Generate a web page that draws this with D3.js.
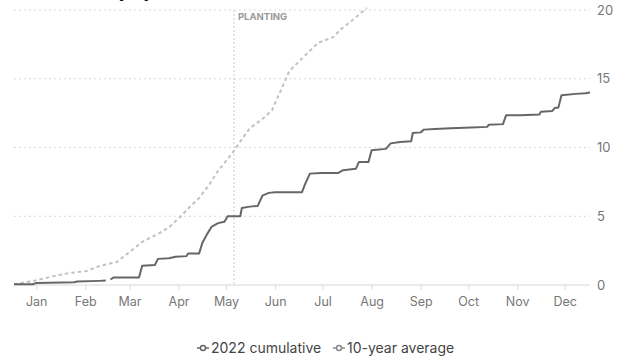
<!DOCTYPE html>
<html><head><meta charset="utf-8">
<script src="https://cdn.jsdelivr.net/npm/d3@7"></script>
<style>
body{margin:0;background:#fff;}
svg{display:block;font-family:Inter,"Noto Sans",sans-serif;}
</style></head><body>
<svg id="c" width="618" height="360"></svg>
<script>
const title = "Rainfall (in)";
const yTicks = [0, 5, 10, 15, 20];
const monthTicks = ["2022-01-15","2022-02-15","2022-03-15","2022-04-15","2022-05-15","2022-06-15","2022-07-15","2022-08-15","2022-09-15","2022-10-15","2022-11-15","2022-12-15"];
const plantingDate = "2022-05-20";
const plantingLabel = "PLANTING";
const seriesNames = ["2022 cumulative", "10-year average"];

const dates2022 = ["2022-01-01","2022-01-13","2022-01-15","2022-02-08","2022-02-10","2022-02-24","2022-02-28","2022-03-01","2022-03-03","2022-03-05","2022-03-21","2022-03-23","2022-03-31","2022-04-02","2022-04-09","2022-04-13","2022-04-20","2022-04-21","2022-04-28","2022-04-30","2022-05-03","2022-05-06","2022-05-10","2022-05-14","2022-05-16","2022-05-24","2022-05-25","2022-05-30","2022-06-04","2022-06-07","2022-06-11","2022-06-15","2022-07-02","2022-07-04","2022-07-07","2022-07-14","2022-07-25","2022-07-28","2022-08-05","2022-08-07","2022-08-13","2022-08-15","2022-08-24","2022-08-27","2022-09-02","2022-09-09","2022-09-10","2022-09-15","2022-09-17","2022-09-24","2022-10-04","2022-10-17","2022-10-27","2022-10-28","2022-11-06","2022-11-08","2022-11-17","2022-11-29","2022-11-30","2022-12-07","2022-12-09","2022-12-11","2022-12-13","2022-12-22","2022-12-28","2022-12-31"];
const values2022 = [0.05,0.05,0.15,0.2,0.25,0.3,0.32,null,0.4,0.55,0.55,1.4,1.45,1.9,1.95,2.05,2.1,2.3,2.3,3.05,3.7,4.25,4.5,4.6,5.0,5.0,5.6,5.7,5.75,6.5,6.7,6.75,6.75,7.35,8.1,8.15,8.15,8.35,8.45,8.95,8.95,9.8,9.9,10.3,10.4,10.45,11.05,11.1,11.3,11.35,11.4,11.45,11.5,11.65,11.7,12.35,12.35,12.4,12.6,12.65,12.9,12.9,13.8,13.9,13.95,14.0];

const datesAvg = ["2022-01-01","2022-01-13","2022-01-26","2022-02-05","2022-02-16","2022-02-24","2022-03-07","2022-03-15","2022-03-23","2022-04-03","2022-04-09","2022-04-16","2022-04-22","2022-04-28","2022-05-05","2022-05-09","2022-05-19","2022-05-26","2022-05-30","2022-06-07","2022-06-13","2022-06-18","2022-06-24","2022-07-01","2022-07-12","2022-07-22","2022-07-26","2022-08-03","2022-08-12"];
const valuesAvg = [0.05,0.29,0.65,0.87,1.02,1.38,1.67,2.4,3.13,3.78,4.2,4.95,5.67,6.33,7.4,8.15,9.6,10.76,11.4,12.07,12.7,14.0,15.56,16.36,17.6,18.04,18.55,19.27,20.15];

const parse = d3.timeParse("%Y-%m-%d");
const svg = d3.select("#c");
const mLeft = 14, mRight = 590, mTop = 10, mBottom = 285;

const x = d3.scaleTime().domain([parse("2022-01-01"), parse("2022-12-31")]).range([mLeft, mRight]);
const y = d3.scaleLinear().domain([0, 20]).range([mBottom, mTop]);

// title (cut off at top, as in the reference)
svg.append("text").attr("x", 152).attr("y", -2).attr("text-anchor", "end")
  .attr("font-size", 22).attr("font-weight", 700).attr("fill", "#111").text(title);

// gridlines
svg.append("g").selectAll("line").data(yTicks).join("line")
  .attr("x1", mLeft).attr("x2", mRight)
  .attr("y1", d => y(d)).attr("y2", d => y(d))
  .attr("stroke", "#d8d8d8").attr("stroke-dasharray", d => d === 0 ? null : "2,3")
  .attr("stroke-width", 1);

// right axis
const yAxis = svg.append("g").attr("transform", `translate(${mRight},0)`)
  .call(d3.axisRight(y).tickValues(yTicks).tickSize(0).tickPadding(7));
yAxis.select(".domain").remove();
yAxis.selectAll("text").attr("font-size", 13).attr("fill", "#777").attr("font-family", "Inter,'Noto Sans',sans-serif");

// bottom axis
const xAxis = svg.append("g").attr("transform", `translate(0,${mBottom})`)
  .call(d3.axisBottom(x).tickValues(monthTicks.map(parse)).tickFormat(d3.timeFormat("%b")).tickSize(5).tickPadding(7));
xAxis.select(".domain").remove();
xAxis.selectAll("line").attr("stroke", "#ddd");
xAxis.selectAll("text").attr("font-size", 12.5).attr("fill", "#777").attr("font-family", "Inter,'Noto Sans',sans-serif");

// planting line
const px = x(parse(plantingDate));
svg.append("line").attr("x1", px).attr("x2", px).attr("y1", mTop).attr("y2", mBottom)
  .attr("stroke", "#ccc").attr("stroke-dasharray", "2,2").attr("stroke-width", 1);
svg.append("text").attr("x", px + 4).attr("y", 20).attr("font-size", 9.5).attr("font-weight", 700)
  .attr("fill", "#999").text(plantingLabel);

// lines
const avgData = datesAvg.map((d, i) => ({date: parse(d), v: valuesAvg[i]}));
const curData = dates2022.map((d, i) => ({date: parse(d), v: values2022[i]}));
const line = d3.line().defined(d => d.v !== null).x(d => x(d.date)).y(d => y(d.v));

svg.append("path").datum(avgData).attr("d", line).attr("fill", "none")
  .attr("stroke", "#c2c2c2").attr("stroke-width", 2).attr("stroke-dasharray", "3.5,3");
svg.append("path").datum(curData).attr("d", line).attr("fill", "none")
  .attr("stroke", "#666").attr("stroke-width", 2).attr("stroke-linejoin", "round");

// legend
const legend = svg.append("g");
const legX = [197, 333];
const legColors = ["#666", "#888"];
seriesNames.forEach((n, i) => {
  const g = legend.append("g").attr("transform", `translate(${legX[i]},348)`);
  g.append("line").attr("x1", 0).attr("x2", 12).attr("y1", 0).attr("y2", 0).attr("stroke", legColors[i]).attr("stroke-width", 1.5);
  g.append("circle").attr("cx", 6).attr("cy", 0).attr("r", 2.5).attr("fill", "#fff").attr("stroke", legColors[i]).attr("stroke-width", 1.5);
  g.append("text").attr("x", 14).attr("y", 5).attr("font-size", 14).attr("fill", "#444").text(n);
});
</script>
</body></html>
